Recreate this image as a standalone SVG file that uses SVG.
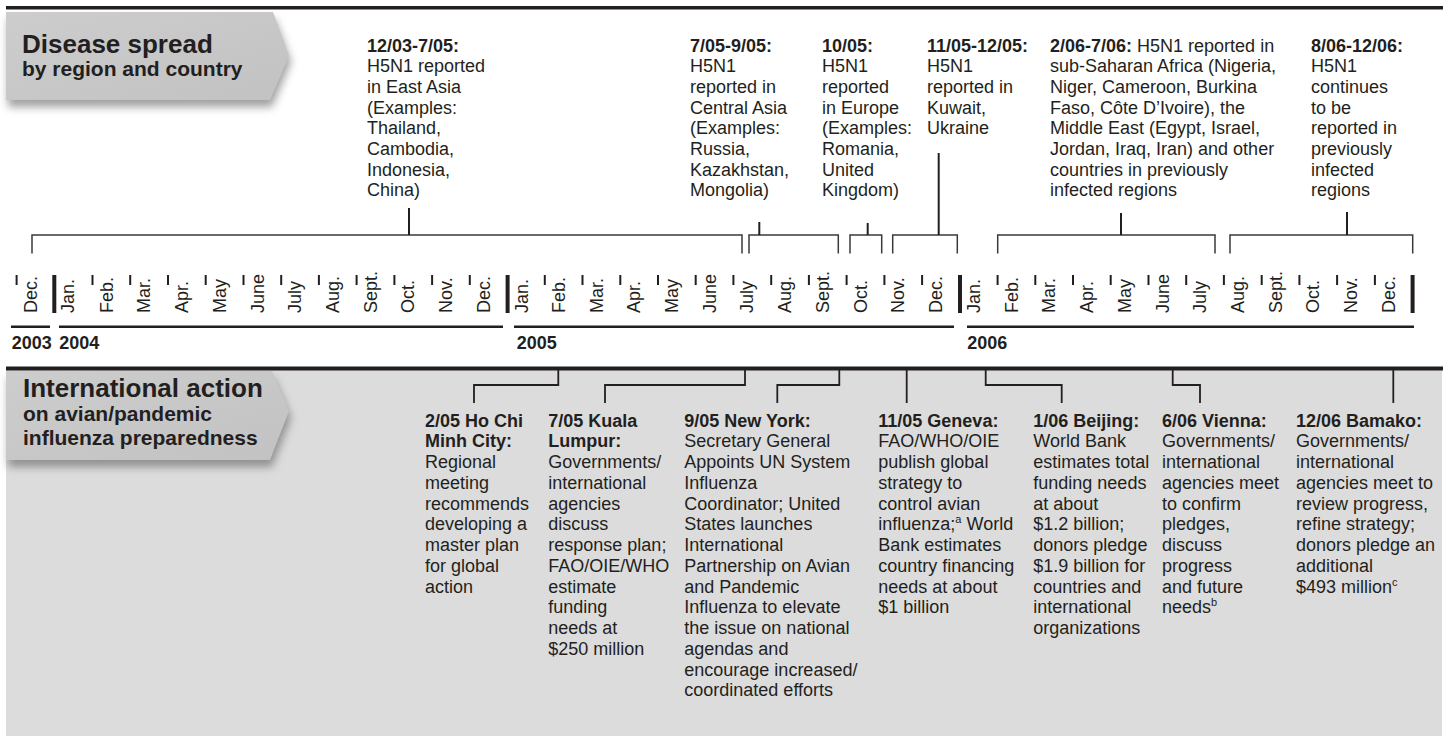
<svg xmlns="http://www.w3.org/2000/svg" width="1454" height="736" viewBox="0 0 1454 736">
<defs>
<style>
text{font-family:"Liberation Sans",Arial,Helvetica,sans-serif;fill:#231f20;font-size:18px}
.b{font-weight:bold}
.h1{font-size:26px;font-weight:bold}
.h2{font-size:21px;font-weight:bold}
.sup{font-size:11px}
.rule{stroke:#231f20;fill:none}
.br{stroke:#3a3a3a;stroke-width:1.5;fill:none}
.stem{stroke:#231f20;stroke-width:2;fill:none}
.con{stroke:#231f20;stroke-width:1.8;fill:none}
.tk{stroke:#231f20;stroke-width:2}
.tkb{stroke:#231f20;stroke-width:4}
.yl{stroke:#231f20;stroke-width:2.5}
.hdr{fill:url(#hg)}
.shd{fill:#555;opacity:0.55;filter:url(#blur)}
</style>
<linearGradient id="hg" x1="0" y1="0" x2="1" y2="1">
<stop offset="0" stop-color="#cdcdcd"/>
<stop offset="1" stop-color="#c2c2c2"/>
</linearGradient>
<filter id="blur" x="-10%" y="-20%" width="130%" height="160%">
<feGaussianBlur stdDeviation="4"/>
</filter>
</defs>

<rect width="1454" height="736" fill="#ffffff"/>
<rect x="6" y="370" width="1436" height="366" fill="#dcdcdc"/>
<line class="rule" x1="6" y1="7.7" x2="1443" y2="7.7" stroke-width="3.5"/>
<line class="rule" x1="6" y1="368.5" x2="1443" y2="368.5" stroke-width="4"/>

<g id="header-disease">
<polygon class="shd" points="8,19 275,19 291,62 272,107 8,107"/>
<polygon class="hdr" points="6,12 273,12 289,56 270,100 6,100"/>
<text x="22" y="53" class="h1">Disease spread</text>
<text x="22" y="76" class="h2">by region and country</text>
</g>

<g id="header-action">
<polygon class="shd" points="8,378 274,378 291,418 272,467 8,467"/>
<polygon class="hdr" points="6,371 272,371 289,411 270,460 6,460"/>
<text x="23" y="397" class="h1">International action</text>
<text x="23" y="421" class="h2">on avian/pandemic</text>
<text x="23" y="444.5" class="h2">influenza preparedness</text>
</g>

<g id="timeline">
<g id="ticks">
<line class="tk" x1="16.6" y1="275" x2="16.6" y2="285"/>
<line class="tkb" x1="54.3" y1="275" x2="54.3" y2="313"/>
<line class="tk" x1="92.5" y1="275" x2="92.5" y2="285"/>
<line class="tk" x1="130.2" y1="275" x2="130.2" y2="285"/>
<line class="tk" x1="168" y1="275" x2="168" y2="285"/>
<line class="tk" x1="205.7" y1="275" x2="205.7" y2="285"/>
<line class="tk" x1="243.5" y1="275" x2="243.5" y2="285"/>
<line class="tk" x1="281.2" y1="275" x2="281.2" y2="285"/>
<line class="tk" x1="318.9" y1="275" x2="318.9" y2="285"/>
<line class="tk" x1="356.6" y1="275" x2="356.6" y2="285"/>
<line class="tk" x1="394.4" y1="275" x2="394.4" y2="285"/>
<line class="tk" x1="432.1" y1="275" x2="432.1" y2="285"/>
<line class="tk" x1="469.8" y1="275" x2="469.8" y2="285"/>
<line class="tkb" x1="507.6" y1="275" x2="507.6" y2="313"/>
<line class="tk" x1="544.8" y1="275" x2="544.8" y2="285"/>
<line class="tk" x1="582.5" y1="275" x2="582.5" y2="285"/>
<line class="tk" x1="620.3" y1="275" x2="620.3" y2="285"/>
<line class="tk" x1="658" y1="275" x2="658" y2="285"/>
<line class="tk" x1="695.7" y1="275" x2="695.7" y2="285"/>
<line class="tk" x1="733.4" y1="275" x2="733.4" y2="285"/>
<line class="tk" x1="771.2" y1="275" x2="771.2" y2="285"/>
<line class="tk" x1="808.9" y1="275" x2="808.9" y2="285"/>
<line class="tk" x1="846.6" y1="275" x2="846.6" y2="285"/>
<line class="tk" x1="884.4" y1="275" x2="884.4" y2="285"/>
<line class="tk" x1="922.1" y1="275" x2="922.1" y2="285"/>
<line class="tkb" x1="960" y1="275" x2="960" y2="313"/>
<line class="tk" x1="997.6" y1="275" x2="997.6" y2="285"/>
<line class="tk" x1="1035.3" y1="275" x2="1035.3" y2="285"/>
<line class="tk" x1="1073" y1="275" x2="1073" y2="285"/>
<line class="tk" x1="1110.7" y1="275" x2="1110.7" y2="285"/>
<line class="tk" x1="1148.5" y1="275" x2="1148.5" y2="285"/>
<line class="tk" x1="1186.2" y1="275" x2="1186.2" y2="285"/>
<line class="tk" x1="1223.9" y1="275" x2="1223.9" y2="285"/>
<line class="tk" x1="1261.7" y1="275" x2="1261.7" y2="285"/>
<line class="tk" x1="1299.4" y1="275" x2="1299.4" y2="285"/>
<line class="tk" x1="1337.1" y1="275" x2="1337.1" y2="285"/>
<line class="tk" x1="1374.9" y1="275" x2="1374.9" y2="285"/>
<line class="tkb" x1="1412.6" y1="275" x2="1412.6" y2="313"/>
</g>
<g id="months">
<text transform="translate(36.6,313) rotate(-90)">Dec.</text>
<text transform="translate(74.3,313) rotate(-90)">Jan.</text>
<text transform="translate(112.5,313) rotate(-90)">Feb.</text>
<text transform="translate(150.2,313) rotate(-90)">Mar.</text>
<text transform="translate(188,313) rotate(-90)">Apr.</text>
<text transform="translate(225.7,313) rotate(-90)">May</text>
<text transform="translate(263.5,313) rotate(-90)">June</text>
<text transform="translate(301.2,313) rotate(-90)">July</text>
<text transform="translate(338.9,313) rotate(-90)">Aug.</text>
<text transform="translate(376.6,313) rotate(-90)">Sept.</text>
<text transform="translate(414.4,313) rotate(-90)">Oct.</text>
<text transform="translate(452.1,313) rotate(-90)">Nov.</text>
<text transform="translate(489.8,313) rotate(-90)">Dec.</text>
<text transform="translate(527.6,313) rotate(-90)">Jan.</text>
<text transform="translate(564.8,313) rotate(-90)">Feb.</text>
<text transform="translate(602.5,313) rotate(-90)">Mar.</text>
<text transform="translate(640.3,313) rotate(-90)">Apr.</text>
<text transform="translate(678,313) rotate(-90)">May</text>
<text transform="translate(715.7,313) rotate(-90)">June</text>
<text transform="translate(753.4,313) rotate(-90)">July</text>
<text transform="translate(791.2,313) rotate(-90)">Aug.</text>
<text transform="translate(828.9,313) rotate(-90)">Sept.</text>
<text transform="translate(866.6,313) rotate(-90)">Oct.</text>
<text transform="translate(904.4,313) rotate(-90)">Nov.</text>
<text transform="translate(942.1,313) rotate(-90)">Dec.</text>
<text transform="translate(980,313) rotate(-90)">Jan.</text>
<text transform="translate(1017.6,313) rotate(-90)">Feb.</text>
<text transform="translate(1055.3,313) rotate(-90)">Mar.</text>
<text transform="translate(1093,313) rotate(-90)">Apr.</text>
<text transform="translate(1130.7,313) rotate(-90)">May</text>
<text transform="translate(1168.5,313) rotate(-90)">June</text>
<text transform="translate(1206.2,313) rotate(-90)">July</text>
<text transform="translate(1243.9,313) rotate(-90)">Aug.</text>
<text transform="translate(1281.7,313) rotate(-90)">Sept.</text>
<text transform="translate(1319.4,313) rotate(-90)">Oct.</text>
<text transform="translate(1357.1,313) rotate(-90)">Nov.</text>
<text transform="translate(1394.9,313) rotate(-90)">Dec.</text>
</g>
<g id="years">
<line class="yl" x1="11" y1="326.7" x2="50" y2="326.7"/>
<line class="yl" x1="59" y1="326.7" x2="503" y2="326.7"/>
<line class="yl" x1="514" y1="326.7" x2="954" y2="326.7"/>
<line class="yl" x1="967" y1="326.7" x2="1414" y2="326.7"/>
<text x="11.7" y="349" class="b">2003</text>
<text x="59.3" y="349" class="b">2004</text>
<text x="516.7" y="349" class="b">2005</text>
<text x="967.3" y="349" class="b">2006</text>
</g>
</g>

<g id="connectors">
<path class="br" d="M32,253.5V235H742V253.5"/>
<path class="br" d="M749,253.5V235H838.3V253.5"/>
<path class="br" d="M850,253.5V235H881.7V253.5"/>
<path class="br" d="M892.7,253.5V235H957.3V253.5"/>
<path class="br" d="M997.7,253.5V235H1215V253.5"/>
<path class="br" d="M1230,253.5V235H1412.7V253.5"/>
<path class="stem" d="M409,208V235"/>
<path class="stem" d="M759.3,222V235"/>
<path class="stem" d="M867.7,223V235"/>
<path class="stem" d="M938.7,153V235"/>
<path class="stem" d="M1121,213V235"/>
<path class="stem" d="M1347,212V235"/>
<path class="con" d="M558.3,370V385H474V403"/>
<path class="con" d="M745,370V385H605V403"/>
<path class="con" d="M839.3,370V385H777.3V403"/>
<path class="con" d="M906.7,370V403"/>
<path class="con" d="M985.7,370V385H1061.7V403"/>
<path class="con" d="M1172.7,370V385H1200V403"/>
<path class="con" d="M1393.3,370V403"/>
</g>

<g id="spread-1203-0705">
<text x="367" y="51.5"><tspan class="b">12/03-7/05:</tspan><tspan x="367" dy="20.7">H5N1 reported</tspan><tspan x="367" dy="20.7">in East Asia</tspan><tspan x="367" dy="20.7">(Examples:</tspan><tspan x="367" dy="20.7">Thailand,</tspan><tspan x="367" dy="20.7">Cambodia,</tspan><tspan x="367" dy="20.7">Indonesia,</tspan><tspan x="367" dy="20.7">China)</tspan></text>
</g>
<g id="spread-0705-0905">
<text x="690" y="51.5"><tspan class="b">7/05-9/05:</tspan><tspan x="690" dy="20.7">H5N1</tspan><tspan x="690" dy="20.7">reported in</tspan><tspan x="690" dy="20.7">Central Asia</tspan><tspan x="690" dy="20.7">(Examples:</tspan><tspan x="690" dy="20.7">Russia,</tspan><tspan x="690" dy="20.7">Kazakhstan,</tspan><tspan x="690" dy="20.7">Mongolia)</tspan></text>
</g>
<g id="spread-1005">
<text x="822" y="51.5"><tspan class="b">10/05:</tspan><tspan x="822" dy="20.7">H5N1</tspan><tspan x="822" dy="20.7">reported</tspan><tspan x="822" dy="20.7">in Europe</tspan><tspan x="822" dy="20.7">(Examples:</tspan><tspan x="822" dy="20.7">Romania,</tspan><tspan x="822" dy="20.7">United</tspan><tspan x="822" dy="20.7">Kingdom)</tspan></text>
</g>
<g id="spread-1105-1205">
<text x="927" y="51.5"><tspan class="b">11/05-12/05:</tspan><tspan x="927" dy="20.7">H5N1</tspan><tspan x="927" dy="20.7">reported in</tspan><tspan x="927" dy="20.7">Kuwait,</tspan><tspan x="927" dy="20.7">Ukraine</tspan></text>
</g>
<g id="spread-0206-0706">
<text x="1050" y="51.5"><tspan class="b">2/06-7/06:</tspan> H5N1 reported in<tspan x="1050" dy="20.7">sub-Saharan Africa (Nigeria,</tspan><tspan x="1050" dy="20.7">Niger, Cameroon, Burkina</tspan><tspan x="1050" dy="20.7">Faso, Côte D’Ivoire), the</tspan><tspan x="1050" dy="20.7">Middle East (Egypt, Israel,</tspan><tspan x="1050" dy="20.7">Jordan, Iraq, Iran) and other</tspan><tspan x="1050" dy="20.7">countries in previously</tspan><tspan x="1050" dy="20.7">infected regions</tspan></text>
</g>
<g id="spread-0806-1206">
<text x="1311" y="51.5"><tspan class="b">8/06-12/06:</tspan><tspan x="1311" dy="20.7">H5N1</tspan><tspan x="1311" dy="20.7">continues</tspan><tspan x="1311" dy="20.7">to be</tspan><tspan x="1311" dy="20.7">reported in</tspan><tspan x="1311" dy="20.7">previously</tspan><tspan x="1311" dy="20.7">infected</tspan><tspan x="1311" dy="20.7">regions</tspan></text>
</g>

<g id="action-hochiminh">
<text x="425" y="426.7"><tspan class="b">2/05 Ho Chi</tspan><tspan x="425" dy="20.75" class="b">Minh City:</tspan><tspan x="425" dy="20.75">Regional</tspan><tspan x="425" dy="20.75">meeting</tspan><tspan x="425" dy="20.75">recommends</tspan><tspan x="425" dy="20.75">developing a</tspan><tspan x="425" dy="20.75">master plan</tspan><tspan x="425" dy="20.75">for global</tspan><tspan x="425" dy="20.75">action</tspan></text>
</g>
<g id="action-kualalumpur">
<text x="548.3" y="426.7"><tspan class="b">7/05 Kuala</tspan><tspan x="548.3" dy="20.75" class="b">Lumpur:</tspan><tspan x="548.3" dy="20.75">Governments/</tspan><tspan x="548.3" dy="20.75">international</tspan><tspan x="548.3" dy="20.75">agencies</tspan><tspan x="548.3" dy="20.75">discuss</tspan><tspan x="548.3" dy="20.75">response plan;</tspan><tspan x="548.3" dy="20.75">FAO/OIE/WHO</tspan><tspan x="548.3" dy="20.75">estimate</tspan><tspan x="548.3" dy="20.75">funding</tspan><tspan x="548.3" dy="20.75">needs at</tspan><tspan x="548.3" dy="20.75">$250 million</tspan></text>
</g>
<g id="action-newyork">
<text x="684.3" y="426.7"><tspan class="b">9/05 New York:</tspan><tspan x="684.3" dy="20.75">Secretary General</tspan><tspan x="684.3" dy="20.75">Appoints UN System</tspan><tspan x="684.3" dy="20.75">Influenza</tspan><tspan x="684.3" dy="20.75">Coordinator; United</tspan><tspan x="684.3" dy="20.75">States launches</tspan><tspan x="684.3" dy="20.75">International</tspan><tspan x="684.3" dy="20.75">Partnership on Avian</tspan><tspan x="684.3" dy="20.75">and Pandemic</tspan><tspan x="684.3" dy="20.75">Influenza to elevate</tspan><tspan x="684.3" dy="20.75">the issue on national</tspan><tspan x="684.3" dy="20.75">agendas and</tspan><tspan x="684.3" dy="20.75">encourage increased/</tspan><tspan x="684.3" dy="20.75">coordinated efforts</tspan></text>
</g>
<g id="action-geneva">
<text x="878.3" y="426.7"><tspan class="b">11/05 Geneva:</tspan><tspan x="878.3" dy="20.75">FAO/WHO/OIE</tspan><tspan x="878.3" dy="20.75">publish global</tspan><tspan x="878.3" dy="20.75">strategy to</tspan><tspan x="878.3" dy="20.75">control avian</tspan><tspan x="878.3" dy="20.75">influenza;</tspan><tspan class="sup" dy="-7">a</tspan><tspan dy="7"> World</tspan><tspan x="878.3" dy="20.75">Bank estimates</tspan><tspan x="878.3" dy="20.75">country financing</tspan><tspan x="878.3" dy="20.75">needs at about</tspan><tspan x="878.3" dy="20.75">$1 billion</tspan></text>
</g>
<g id="action-beijing">
<text x="1033.3" y="426.7"><tspan class="b">1/06 Beijing:</tspan><tspan x="1033.3" dy="20.75">World Bank</tspan><tspan x="1033.3" dy="20.75">estimates total</tspan><tspan x="1033.3" dy="20.75">funding needs</tspan><tspan x="1033.3" dy="20.75">at about</tspan><tspan x="1033.3" dy="20.75">$1.2 billion;</tspan><tspan x="1033.3" dy="20.75">donors pledge</tspan><tspan x="1033.3" dy="20.75">$1.9 billion for</tspan><tspan x="1033.3" dy="20.75">countries and</tspan><tspan x="1033.3" dy="20.75">international</tspan><tspan x="1033.3" dy="20.75">organizations</tspan></text>
</g>
<g id="action-vienna">
<text x="1162" y="426.7"><tspan class="b">6/06 Vienna:</tspan><tspan x="1162" dy="20.75">Governments/</tspan><tspan x="1162" dy="20.75">international</tspan><tspan x="1162" dy="20.75">agencies meet</tspan><tspan x="1162" dy="20.75">to confirm</tspan><tspan x="1162" dy="20.75">pledges,</tspan><tspan x="1162" dy="20.75">discuss</tspan><tspan x="1162" dy="20.75">progress</tspan><tspan x="1162" dy="20.75">and future</tspan><tspan x="1162" dy="20.75">needs</tspan><tspan class="sup" dy="-7">b</tspan></text>
</g>
<g id="action-bamako">
<text x="1296" y="426.7"><tspan class="b">12/06 Bamako:</tspan><tspan x="1296" dy="20.75">Governments/</tspan><tspan x="1296" dy="20.75">international</tspan><tspan x="1296" dy="20.75">agencies meet to</tspan><tspan x="1296" dy="20.75">review progress,</tspan><tspan x="1296" dy="20.75">refine strategy;</tspan><tspan x="1296" dy="20.75">donors pledge an</tspan><tspan x="1296" dy="20.75">additional</tspan><tspan x="1296" dy="20.75">$493 million</tspan><tspan class="sup" dy="-7">c</tspan></text>
</g>
</svg>
